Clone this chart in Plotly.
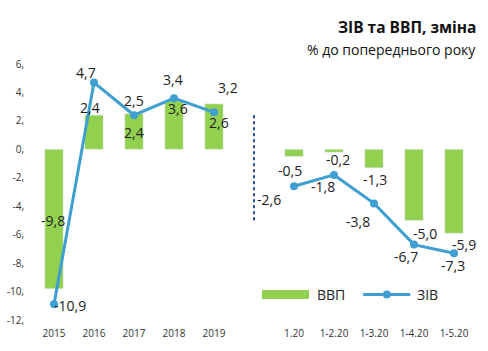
import plotly.graph_objects as go

categories = ["2015", "2016", "2017", "2018", "2019", "", "1.20", "1-2.20", "1-3.20", "1-4.20", "1-5.20"]
vvp = [-9.8, 2.4, 2.5, 3.4, 3.2, None, -0.5, -0.2, -1.3, -5.0, -5.9]
ziv = [-10.9, 4.7, 2.4, 3.6, 2.6, None, -2.6, -1.8, -3.8, -6.7, -7.3]
ytick_vals = [6, 4, 2, 0, -2, -4, -6, -8, -10, -12]
ytick_text = ["6,", "4,", "2,", "0,", "-2,", "-4,", "-6,", "-8,", "-10,", "-12,"]

# label offsets in pixels (style only)
bar_off = [(-1, 68), (-4, 8), (0, 13), (-1, 21), (14, 16), None, (-4, -14), (4, -7), (1, -12), (11, -13), (10, -11)]
line_off = [(16, -1), (-8, 10), (0, -17), (4, -10), (5, -10), None, (-25, -13), (-11, -12), (-16, -18), (-8, -12), (-1, -12)]

xs = list(range(len(categories)))
green = "#92D050"
blue = "#3E9FD0"
font = "Open Sans"
txt = "#222222"

fig = go.Figure()
fig.add_trace(go.Bar(x=xs, y=vvp, name="ВВП", marker_color=green, width=0.46, showlegend=False))
fig.add_trace(go.Scatter(x=xs, y=ziv, name="ЗІВ", mode="lines+markers",
                         line=dict(color=blue, width=3), marker=dict(size=8, color=blue),
                         connectgaps=False, showlegend=False))

def fmt(v):
    return f"{v:.1f}".replace(".", ",")

anns = []
for i in xs:
    if vvp[i] is not None:
        dx, dy = bar_off[i]
        anns.append(dict(x=i, y=vvp[i], text=fmt(vvp[i]), showarrow=False, xshift=dx, yshift=dy,
                         font=dict(family=font, size=14, color=txt)))
    if ziv[i] is not None:
        dx, dy = line_off[i]
        anns.append(dict(x=i, y=ziv[i], text=fmt(ziv[i]), showarrow=False, xshift=dx, yshift=dy,
                         font=dict(family=font, size=14, color=txt)))

anns.append(dict(xref="paper", yref="paper", x=1.009, y=1.145, xanchor="right", yanchor="middle",
                 text="<b>ЗІВ та ВВП, зміна</b>", showarrow=False,
                 font=dict(family=font, size=15.5, color="#111111")))
anns.append(dict(xref="paper", yref="paper", x=1.009, y=1.055, xanchor="right", yanchor="middle",
                 text="% до попереднього року", showarrow=False,
                 font=dict(family=font, size=14, color="#111111")))

# custom legend
leg_y = 0.0996
anns.append(dict(xref="paper", yref="paper", x=0.639, y=leg_y, xanchor="left", yanchor="middle",
                 text="ВВП", showarrow=False, font=dict(family=font, size=14, color=txt)))
anns.append(dict(xref="paper", yref="paper", x=0.866, y=leg_y, xanchor="left", yanchor="middle",
                 text="ЗІВ", showarrow=False, font=dict(family=font, size=14, color=txt)))

shapes = [
    dict(type="line", x0=5, x1=5, y0=2.4, y1=-5.1, xref="x", yref="y",
         line=dict(color="#1F4E9E", width=2, dash="dot")),
    dict(type="rect", xref="paper", yref="paper", x0=0.518, x1=0.625, y0=0.082, y1=0.117,
         fillcolor=green, line=dict(width=0)),
    dict(type="line", xref="paper", yref="paper", x0=0.748, x1=0.855, y0=leg_y, y1=leg_y,
         line=dict(color=blue, width=3)),
    dict(type="circle", xref="paper", yref="paper", xsizemode="pixel", ysizemode="pixel",
         xanchor=0.802, yanchor=leg_y, x0=-4, x1=4, y0=-4, y1=4,
         fillcolor=blue, line=dict(width=0)),
]

fig.update_layout(
    width=488, height=351,
    margin=dict(l=34, r=14, t=64, b=31, autoexpand=False),
    paper_bgcolor="white", plot_bgcolor="white",
    annotations=anns,
    shapes=shapes,
    showlegend=False,
    bargap=0.5,
)
fig.update_xaxes(range=[-0.5, 10.5], tickvals=xs, ticktext=categories, showgrid=False,
                 zeroline=False, showline=False, ticks="", ticklabelstandoff=6, automargin=False,
                 tickfont=dict(family=font, size=10, color="#333333"))
fig.update_yaxes(range=[-12, 6], tickvals=ytick_vals, ticktext=ytick_text, showgrid=False,
                 zeroline=False, showline=False, ticks="", ticklabelstandoff=9, automargin=False,
                 tickfont=dict(family=font, size=10, color="#333333"))

fig.write_html("out.html")
